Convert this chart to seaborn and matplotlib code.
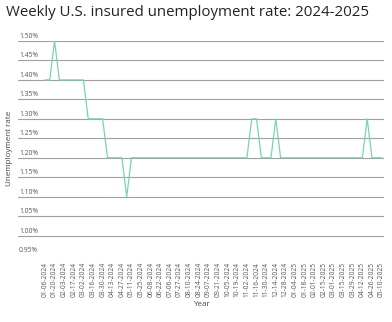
import matplotlib
matplotlib.use("Agg")
import matplotlib.pyplot as plt
import seaborn as sns
import pandas as pd
import numpy as np

# Tick labels shown on the x axis (every second weekly observation)
tick_labels = [
    "01-06-2024", "01-20-2024", "02-03-2024", "02-17-2024", "03-02-2024",
    "03-16-2024", "03-30-2024", "04-13-2024", "04-27-2024", "05-11-2024",
    "05-25-2024", "06-08-2024", "06-22-2024", "07-06-2024", "07-27-2024",
    "08-10-2024", "08-24-2024", "09-07-2024", "09-21-2024", "10-05-2024",
    "10-19-2024", "11-02-2024", "11-16-2024", "11-30-2024", "12-14-2024",
    "12-28-2024", "01-04-2025", "01-18-2025", "02-01-2025", "02-15-2025",
    "03-01-2025", "03-15-2025", "03-29-2025", "04-12-2025", "04-26-2025",
    "05-10-2025",
]

# Weekly insured unemployment rate (%), one value per week
rate = [
    1.40, 1.40, 1.50, 1.40, 1.40, 1.40, 1.40, 1.40, 1.40, 1.30,
    1.30, 1.30, 1.30, 1.20, 1.20, 1.20, 1.20, 1.10, 1.20, 1.20,
    1.20, 1.20, 1.20, 1.20, 1.20, 1.20, 1.20, 1.20, 1.20, 1.20,
    1.20, 1.20, 1.20, 1.20, 1.20, 1.20, 1.20, 1.20, 1.20, 1.20,
    1.20, 1.20, 1.20, 1.30, 1.30, 1.20, 1.20, 1.20, 1.30, 1.20,
    1.20, 1.20, 1.20, 1.20, 1.20, 1.20, 1.20, 1.20, 1.20, 1.20,
    1.20, 1.20, 1.20, 1.20, 1.20, 1.20, 1.20, 1.30, 1.20, 1.20,
    1.20,
]

y_ticks = [0.95, 1.00, 1.05, 1.10, 1.15, 1.20, 1.25, 1.30, 1.35, 1.40, 1.45, 1.50]

df = pd.DataFrame({"week": np.arange(len(rate)), "rate": rate})

sns.set_theme(style="white")
plt.rcParams["font.family"] = ["Open Sans", "DejaVu Sans"]

W, H = 392, 322
fig = plt.figure(figsize=(W / 100, H / 100), dpi=100)
ax = fig.add_axes([18 / W, 1 - 255 / H, (384 - 18) / W, (255 - 41) / H])

sns.lineplot(data=df, x="week", y="rate", ax=ax, color="#78d6aa",
             linewidth=0.9, zorder=3)

ax.set_xlim(-5.6, 70.5)
ax.set_ylim(0.95, 1.50)

ax.set_yticks(y_ticks)
ax.set_yticklabels([f"{v:.2f}%" for v in y_ticks])
ax.grid(axis="y", color="#a0a0a0", linewidth=0.8)
ax.grid(axis="x", visible=False)
ax.get_ygridlines()[0].set_visible(False)
ax.tick_params(axis="y", length=0, pad=0, labelsize=4.9, labelcolor="#555555")
for lbl in ax.get_yticklabels():
    lbl.set_horizontalalignment("left")
    lbl.set_verticalalignment("bottom")
    lbl.set_transform(lbl.get_transform() +
                      matplotlib.transforms.ScaledTranslation(1 / 100, 1 / 100, fig.dpi_scale_trans))

ax.set_xticks(np.arange(0, len(rate), 2))
ax.set_xticklabels(tick_labels, rotation=90)
ax.tick_params(axis="x", length=0, pad=5, labelsize=4.8, labelcolor="#555555")

for s in ax.spines.values():
    s.set_visible(False)

ax.set_xlabel("Year", fontsize=5.8, color="#444444")
ax.set_ylabel("Unemployment rate", fontsize=5.8, color="#444444")
ax.xaxis.set_label_coords(0.5, (255 - 301) / (255 - 41))
ax.yaxis.set_label_coords((13 - 18) / (384 - 18), 0.5)

fig.text(6 / W, 1 - 16 / H, "Weekly U.S. insured unemployment rate: 2024-2025",
         fontsize=10.8, color="#222222", ha="left", va="baseline")

fig.savefig("out.png", dpi=100)
